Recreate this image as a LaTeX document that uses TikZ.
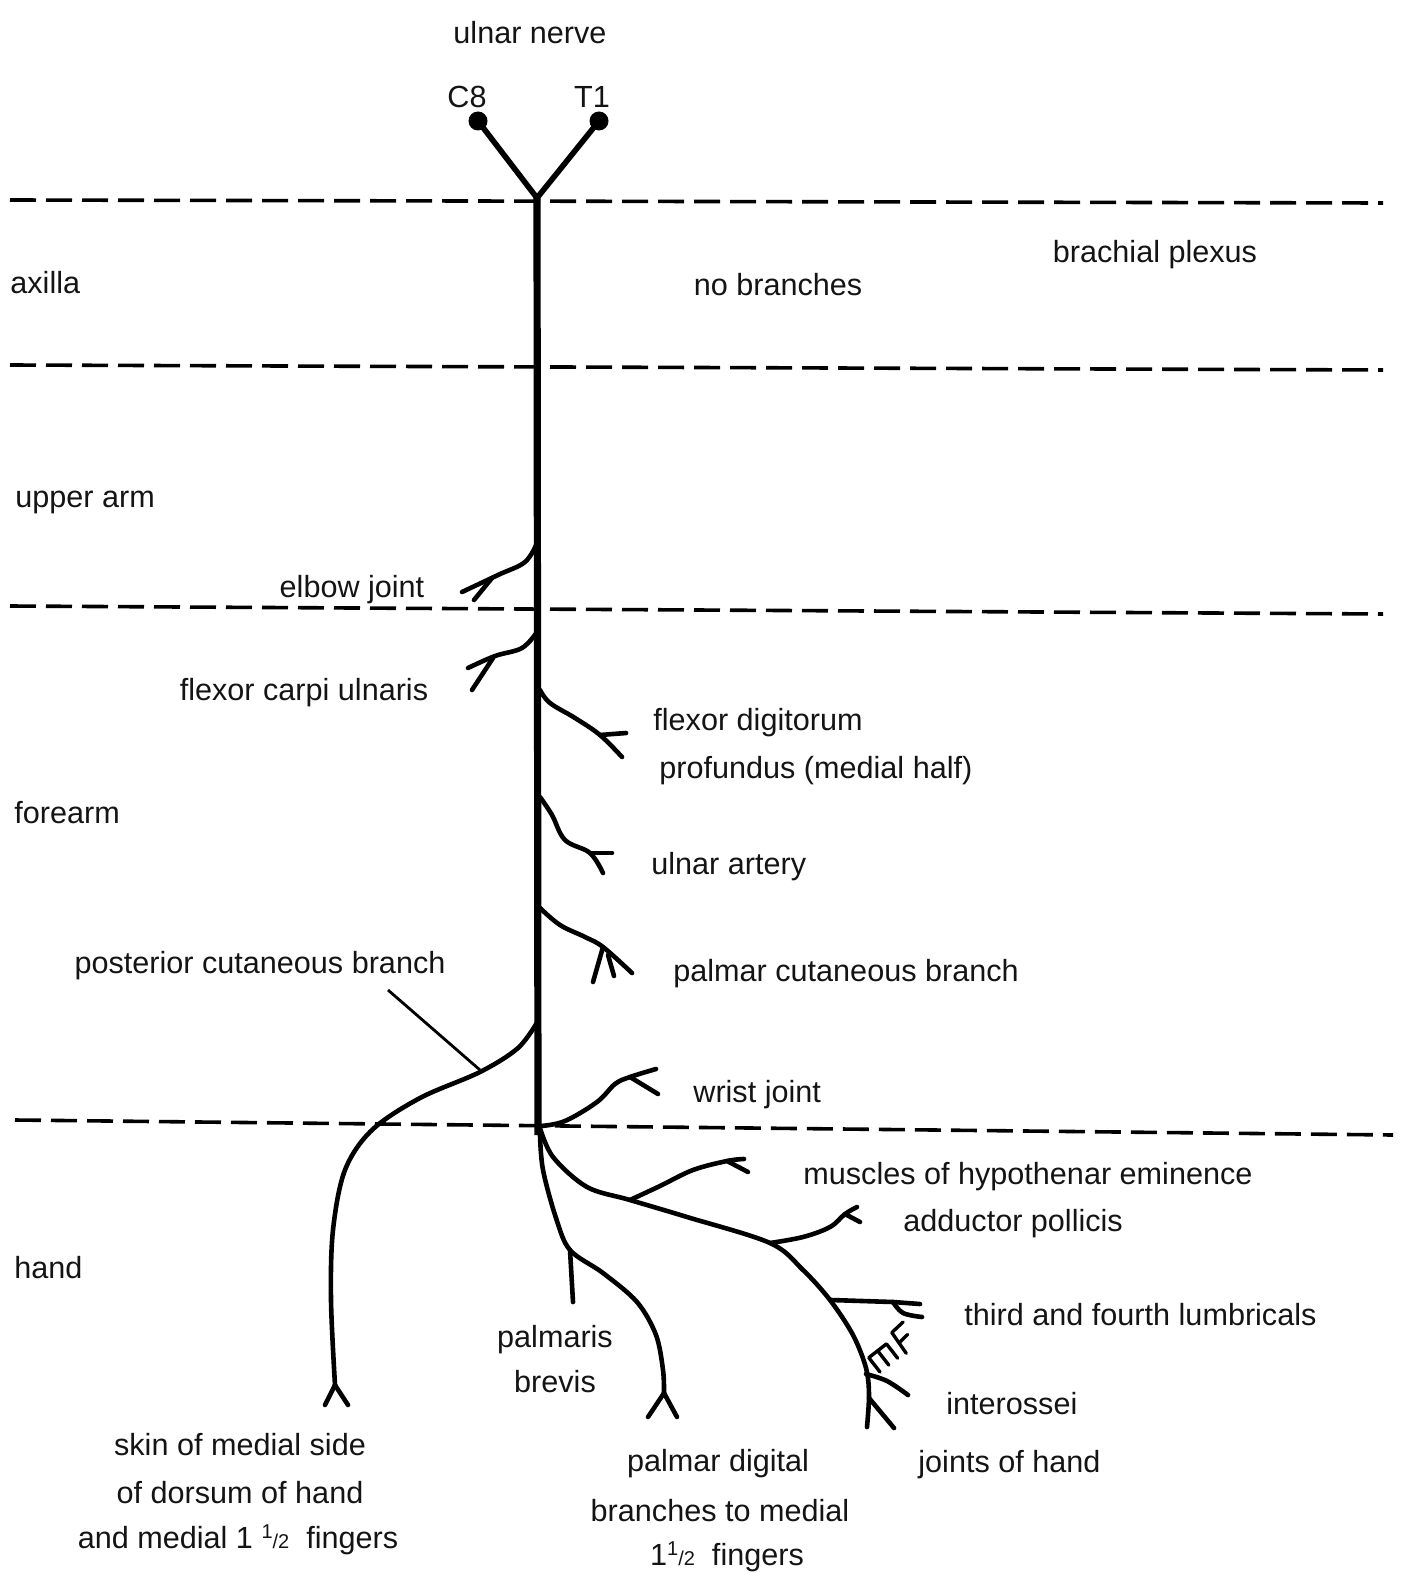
\documentclass[tikz,border=0pt]{standalone}
\usepackage{fontspec}
\setmainfont{Liberation Sans}
\begin{document}
\begin{tikzpicture}[x=0.5pt,y=-0.5pt,
  lbl/.style={inner sep=0pt, yshift=-2.5pt, font=\fontsize{15.3}{18}\selectfont, text=black!92},
  lblw/.style={lbl, anchor=west},
  sep/.style={line width=1.8pt, dash pattern=on 13pt off 5pt},
  trunk/.style={line width=3.6pt},
  twig/.style={line width=2.3pt, line cap=round, line join=round},
  leader/.style={line width=1.4pt}]
\useasboundingbox (0,0) rectangle (1404,1573);
\newcommand{\half}{{\fontsize{10}{10}\selectfont\raisebox{0.9ex}{1}/2}}

% separator lines
\coordinate (s1l) at (10,200); \coordinate (s1r) at (1383,203);
\coordinate (s2l) at (10,365); \coordinate (s2r) at (1383,370);
\coordinate (s3l) at (10,606); \coordinate (s3r) at (1383,614);
\coordinate (s4l) at (15,1120); \coordinate (s4r) at (1393,1135);
\draw[sep] (s1l) -- (s1r);
\draw[sep] (s2l) -- (s2r);
\draw[sep] (s3l) -- (s3r);
\draw[sep] (s4l) -- (s4r);

% roots
\node[circle, fill=black, inner sep=0pt, minimum size=9.5pt] (c8) at (478,121) {};
\node[circle, fill=black, inner sep=0pt, minimum size=9.5pt] (t1) at (599,121) {};
\coordinate (y) at (537,198);
\coordinate (tb) at (538,1135);
\draw[line width=2.8pt] (c8.center) -- (y) -- (t1.center);
\draw[trunk] (537,195) -- (tb);

% branch origins on the trunk
\coordinate (oel) at (537,543);
\coordinate (ofc) at (537,632);
\coordinate (ofd) at (540,690);
\coordinate (oua) at (540,797);
\coordinate (opc) at (540,908);
\coordinate (opo) at (538,1021);
\coordinate (owr) at (541,1126);

% elbow joint
\draw[twig] plot[smooth, tension=0.6] coordinates {(oel) (525,562) (498,575) (462,592)};
\draw[twig] (492,578) -- (474,600);
% flexor carpi ulnaris
\draw[twig] plot[smooth, tension=0.6] coordinates {(ofc) (522,648) (495,656) (468,668)};
\draw[twig] (493,658) -- (472,690);
% flexor digitorum profundus
\draw[twig] plot[smooth, tension=0.6] coordinates {(ofd) (550,703) (575,718) (600,735) (622,757)};
\draw[twig] (600,735) -- (626,733);
% ulnar artery
\draw[twig] plot[smooth, tension=0.6] coordinates {(oua) (552,815) (565,840) (590,853) (603,873)};
\draw[twig] (590,853) -- (612,853);
% palmar cutaneous branch
\draw[twig] plot[smooth, tension=0.6] coordinates {(opc) (560,925) (585,937) (603,947) (632,973)};
\draw[twig] (603,947) -- (593,982);
\draw[twig] (608,955) -- (614,976);
% posterior cutaneous branch
\draw[twig] plot[smooth, tension=0.55] coordinates {(opo) (518,1048) (480,1072) (420,1098) (372,1130) (345,1170) (333,1230) (331,1300) (335,1385)};
\draw[twig] (335,1385) -- (325,1405);
\draw[twig] (335,1385) -- (348,1405);
\coordinate (pcl) at (388,990);
\coordinate (pcj) at (480,1070);
\draw[leader] (pcl) -- (pcj);
% wrist joint
\draw[twig] plot[smooth, tension=0.6] coordinates {(owr) (565,1121) (597,1102) (615,1084) (630,1077) (656,1069)};
\draw[twig] (630,1077) -- (658,1094);

% deep branch
\coordinate (odb) at (540,1128);
\draw[twig] plot[smooth, tension=0.55] coordinates {(odb) (553,1157) (587,1187) (630,1200) (687,1217) (770,1243) (803,1270) (830,1300) (853,1335) (866,1368) (869,1395) (867,1427)};
% hypothenar
\draw[twig] plot[smooth, tension=0.6] coordinates {(630,1200) (660,1186) (693,1170) (727,1161) (744,1159)};
\draw[twig] (727,1161) -- (748,1172);
% adductor pollicis
\draw[twig] plot[smooth, tension=0.6] coordinates {(770,1243) (803,1237) (830,1227) (845,1214) (857,1207)};
\draw[twig] (845,1214) -- (860,1222);
% lumbricals
\draw[twig] (831,1300) -- (893,1302) -- (920,1304);
\draw[twig] plot[smooth, tension=0.6] coordinates {(893,1302) (903,1313) (922,1317)};
% interossei
\draw[twig] plot[smooth, tension=0.6] coordinates {(866,1374) (887,1381) (908,1395)};
% joints of hand
\draw[twig] (869,1398) -- (894,1428);
% small twig glyph
\begin{scope}[shift={(880,1372)}, rotate=38, scale=1.4, line width=1.7pt, line cap=round, line join=round]
  \draw (0,0) -- (0,-13) -- (16,-13) -- (16,0);
  \draw (8,-13) -- (8,0);
  \draw (23,1) -- (24,-17) -- (35,-18);
  \draw (23.5,-8) -- (32,-9);
\end{scope}

% palmar digital branch
\coordinate (opd) at (540,1135);
\draw[twig] plot[smooth, tension=0.55] coordinates {(opd) (543,1170) (556,1218) (570,1250) (603,1273) (637,1302) (656,1335) (663,1370) (664,1393)};
\draw[twig] (664,1393) -- (648,1417);
\draw[twig] (664,1393) -- (677,1417);
% palmaris brevis
\draw[twig] (570,1250) -- (573,1302);

% labels
\node[lbl] (title) at (530,28) {ulnar nerve};
\node[lbl] (lc8) at (467,92) {C8};
\node[lbl] (lt1) at (592,92) {T1};
\node[lblw] (axilla) at (10,278) {axilla};
\node[lbl] (nob) at (778,280) {no branches};
\node[lbl] (bp) at (1155,250) {brachial plexus};
\node[lblw] (uarm) at (15,497) {upper arm};
\node[lbl] (elbow) at (352,585) {elbow joint};
\node[lbl] (fcu) at (304,688) {flexor carpi ulnaris};
\node[lblw] (fdp1) at (653,718) {flexor digitorum};
\node[lblw] (fdp2) at (659,766) {profundus (medial half)};
\node[lblw] (forearm) at (14,808) {forearm};
\node[lblw] (ua) at (651,862) {ulnar artery};
\node[lbl] (pcb) at (260,961) {posterior cutaneous branch};
\node[lblw] (pal) at (673,969) {palmar cutaneous branch};
\node[lblw] (wj) at (693,1090) {wrist joint};
\node[lblw] (hyp) at (803,1172) {muscles of hypothenar eminence};
\node[lblw] (add) at (903,1219) {adductor pollicis};
\node[lblw] (hand) at (14,1263) {hand};
\node[lblw] (lum) at (964,1310) {third and fourth lumbricals};
\node[lbl] (pb1) at (555,1335) {palmaris};
\node[lbl] (pb2) at (555,1377) {brevis};
\node[lblw] (int) at (946,1399) {interossei};
\node[lbl] (sk1) at (240,1440) {skin of medial side};
\node[lbl] (sk2) at (240,1488) {of dorsum of hand};
\node[lbl] (sk3) at (238,1535) {and medial 1 \half\ \ fingers};
\node[lbl] (pd1) at (718,1459) {palmar digital};
\node[lbl] (pd2) at (720,1506) {branches to medial};
\node[lbl] (pd3) at (727,1552) {1\half\ \ fingers};
\node[lblw] (joh) at (918,1460) {joints of hand};
\end{tikzpicture}
\end{document}
